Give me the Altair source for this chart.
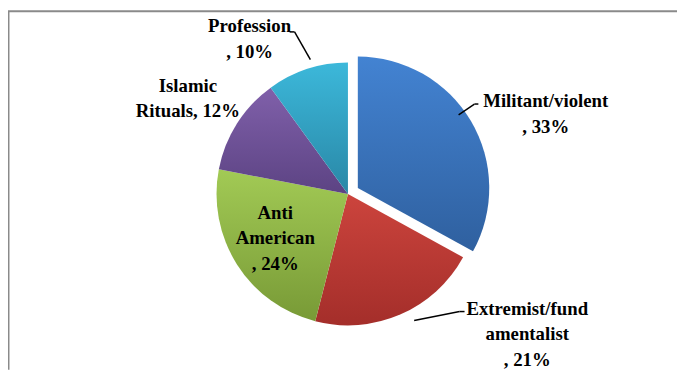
import math
import altair as alt
import pandas as pd

categories = ["Militant/violent", "Extremist/fundamentalist", "Anti American", "Islamic Rituals", "Profession"]
shares = [33, 21, 24, 12, 10]
label_texts = ["Militant/violent\n, 33%", "Extremist/fund\namentalist\n, 21%", "Anti\nAmerican\n, 24%",
               "Islamic\nRituals, 12%", "Profession\n, 10%"]
top_colors = ["#4383D2", "#CC443D", "#A2CA55", "#8060AA", "#3CB8DA"]
bottom_colors = ["#2F609F", "#A42E2A", "#789A36", "#5C4383", "#2987A6"]

df = pd.DataFrame({"category": categories, "share": shares, "label": label_texts,
                   "order": list(range(len(categories)))})

W, H = 677, 364
CX, CY = 344, 186
R = 133
LH = 26
FONT = "Liberation Serif"

theta_scale = alt.Scale(domain=[0, 100], range=[0, 2 * math.pi])

base = alt.Chart(df).transform_window(
    cum="sum(share)", sort=[alt.SortField("order")], frame=[None, 0]
).transform_calculate(
    start="datum.cum - datum.share", mid="datum.cum - datum.share / 2"
)

layers = []
offsets = {0: (10, -6)}
for i, cat in enumerate(categories):
    grad = alt.Gradient(gradient="linear",
                        stops=[alt.GradientStop(color=top_colors[i], offset=0),
                               alt.GradientStop(color=bottom_colors[i], offset=1)],
                        x1=0, y1=0, x2=0, y2=1)
    ox, oy = offsets.get(i, (0, 0))
    layers.append(
        base.transform_filter(alt.datum.category == cat)
        .mark_arc(outerRadius=R, fill=grad, xOffset=ox, yOffset=oy)
        .encode(theta=alt.Theta("start:Q", scale=theta_scale, stack=None),
                theta2="cum:Q",
                x=alt.value(CX), y=alt.value(CY))
    )

label_pos = {
    0: (200, 28, 21),
    1: (180, 110, -23),
    2: (80, -6, 2),
    3: (180, -10, 0),
    4: (170, -47, 5),
}
for i, cat in enumerate(categories):
    r, dx, dy = label_pos[i]
    nlines = label_texts[i].count("\n") + 1
    dy = dy - (nlines - 1) * LH / 2
    layers.append(
        base.transform_filter(alt.datum.category == cat)
        .mark_text(radius=r, dx=dx, dy=dy, font=FONT, fontWeight="bold",
                   fontSize=19, lineBreak="\n", lineHeight=LH, align="center",
                   baseline="middle", color="black")
        .encode(theta=alt.Theta("mid:Q", scale=theta_scale, stack=None),
                text="label:N",
                x=alt.value(CX), y=alt.value(CY))
    )

dummy = alt.Chart(pd.DataFrame({"a": [0]}))

def seg(x1, y1, x2, y2, color="black", width=1.5):
    return dummy.mark_rule(color=color, strokeWidth=width).encode(
        x=alt.value(x1), y=alt.value(y1), x2=alt.value(x2), y2=alt.value(y2))

layers += [
    seg(285, 22, 290, 22), seg(290, 22, 306, 50),
    seg(456, 106, 472, 95), seg(472, 95, 476, 95),
    seg(411, 314, 457, 305), seg(457, 305, 462, 305),
]
layers += [
    seg(0.5, 1, 0.5, H, color="#8a8a8a", width=2),
    seg(0, 1, W, 1, color="#8a8a8a", width=2),
]

chart = alt.layer(*layers).properties(
    width=W, height=H, autosize=alt.AutoSizeParams(type="none"), padding=0
).configure_view(stroke=None)

chart.save("out.html", embed_options={"renderer": "svg", "actions": False})
